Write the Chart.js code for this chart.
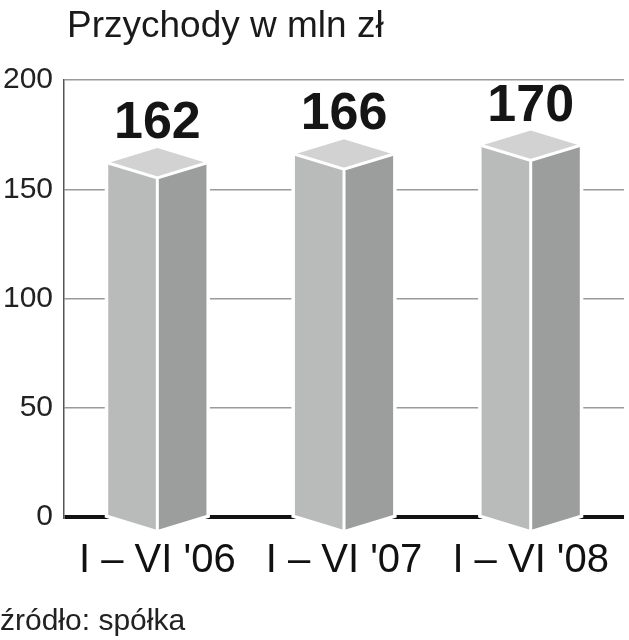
<!DOCTYPE html>
<html>
<head>
<meta charset="utf-8">
<script src="https://cdn.jsdelivr.net/npm/chart.js@4/dist/chart.umd.min.js"></script>
<style>
    html, body { margin: 0; padding: 0; background: #fff; }
    #wrap { width: 629px; height: 640px; position: relative; }
</style>
</head>
<body>
<div id="wrap"><canvas id="myChart"></canvas></div>
<script>
var chartTitle = 'Przychody w mln zł';
var sourceNote = 'źródło: spółka';
var periods = ["I \u2013 VI '06", "I \u2013 VI '07", "I \u2013 VI '08"];
var revenue = [162, 166, 170];
var yTicks = [0, 50, 100, 150, 200];

var FONT = "'Liberation Sans', Arial, sans-serif";

function fillPoly(ctx, pts, color) {
    ctx.beginPath();
    ctx.moveTo(pts[0][0], pts[0][1]);
    for (var i = 1; i < pts.length; i++) ctx.lineTo(pts[i][0], pts[i][1]);
    ctx.closePath();
    ctx.fillStyle = color;
    ctx.fill();
}

// draws each bar as a little prism (top rhombus + two side faces)
var prismPlugin = {
    id: 'prism',
    afterDatasetsDraw: function (chart) {
        var ctx = chart.ctx;
        var meta = chart.getDatasetMeta(0);
        var depth = 15;
        meta.data.forEach(function (bar, i) {
            var cx = bar.x, hw = bar.width / 2, yt = bar.y, yb = bar.base;
            var l = cx - hw, r = cx + hw;
            ctx.save();
            // white halo round the whole shape
            ctx.beginPath();
            ctx.moveTo(l, yt);
            ctx.lineTo(cx, yt - depth);
            ctx.lineTo(r, yt);
            ctx.lineTo(r, yb);
            ctx.lineTo(cx, yb + depth);
            ctx.lineTo(l, yb);
            ctx.closePath();
            ctx.lineJoin = 'miter';
            ctx.lineWidth = 7;
            ctx.strokeStyle = '#fff';
            ctx.stroke();

            fillPoly(ctx, [[l, yt], [cx, yt + depth], [cx, yb + depth], [l, yb]], '#b9bbba');
            fillPoly(ctx, [[cx, yt + depth], [r, yt], [r, yb], [cx, yb + depth]], '#9c9e9d');
            fillPoly(ctx, [[l, yt], [cx, yt - depth], [r, yt], [cx, yt + depth]], '#d1d2d1');

            ctx.beginPath();
            ctx.moveTo(l, yt);
            ctx.lineTo(cx, yt + depth);
            ctx.lineTo(r, yt);
            ctx.moveTo(cx, yt + depth);
            ctx.lineTo(cx, yb + depth);
            ctx.lineWidth = 3;
            ctx.strokeStyle = '#fff';
            ctx.stroke();

            ctx.font = 'bold 52px ' + FONT;
            ctx.fillStyle = '#151515';
            ctx.textAlign = 'center';
            ctx.textBaseline = 'alphabetic';
            ctx.fillText(String(revenue[i]), cx, yt - depth - 10);
            ctx.restore();
        });
    }
};

var textPlugin = {
    id: 'texts',
    afterDraw: function (chart) {
        var ctx = chart.ctx;
        ctx.save();
        ctx.fillStyle = '#1a1a1a';
        ctx.textAlign = 'left';
        ctx.textBaseline = 'alphabetic';
        ctx.font = '37px ' + FONT;
        ctx.fillText(chartTitle, 67, 37);
        ctx.font = '30px ' + FONT;
        ctx.fillStyle = '#222';
        ctx.fillText(sourceNote, 0, 630);
        ctx.restore();
    }
};

var ctx = document.getElementById('myChart').getContext('2d');
new Chart(ctx, {
    type: 'bar',
    data: {
        labels: periods,
        datasets: [{
            data: revenue,
            backgroundColor: 'rgba(0,0,0,0)',
            borderWidth: 0,
            categoryPercentage: 1,
            barPercentage: 0.526
        }]
    },
    options: {
        responsive: true,
        maintainAspectRatio: false,
        animation: false,
        layout: { padding: { top: 80, right: 0, bottom: 35, left: 0 } },
        plugins: {
            legend: { display: false },
            tooltip: { enabled: false }
        },
        scales: {
            x: {
                grid: { display: false, drawTicks: false },
                border: { display: false },
                ticks: {
                    color: '#111',
                    padding: 20,
                    maxRotation: 0,
                    autoSkip: false,
                    font: { family: FONT, size: 40 }
                }
            },
            y: {
                min: 0,
                max: 200,
                afterBuildTicks: function (scale) {
                    scale.ticks = yTicks.map(function (v) { return { value: v }; });
                },
                afterFit: function (scale) { scale.width = 64; },
                grid: {
                    drawTicks: false,
                    color: function (c) { return c.tick && c.tick.value === 0 ? '#111' : '#9a9a9a'; },
                    lineWidth: function (c) { return c.tick && c.tick.value === 0 ? 4 : 1.5; }
                },
                border: { color: '#555', width: 1.5 },
                ticks: {
                    color: '#222',
                    padding: 11,
                    font: { family: FONT, size: 30 }
                }
            }
        }
    },
    plugins: [prismPlugin, textPlugin]
});
</script>
</body>
</html>
